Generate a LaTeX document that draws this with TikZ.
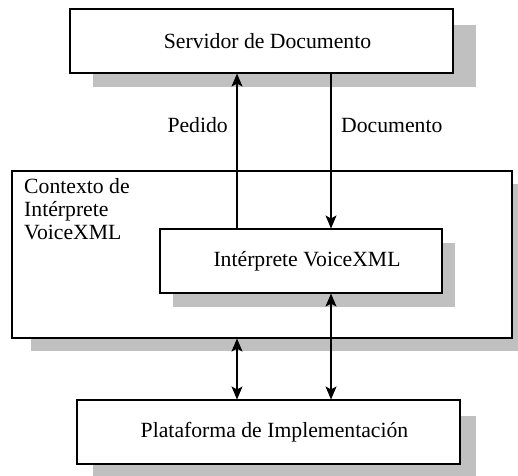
\documentclass[tikz,border=0pt]{standalone}
\usepackage{fontspec}
\setmainfont{Liberation Serif}
\usetikzlibrary{arrows.meta}
\definecolor{shadowc}{HTML}{C0C0C0}
\newcommand{\myrshift}[1]{\hspace*{12pt}#1}
\begin{document}
\begin{tikzpicture}[x=1pt,y=-1pt,
  every node/.style={font=\fontsize{21.7}{23}\selectfont},
  box/.style={draw=black,line width=1.1pt,fill=white,rectangle,inner sep=0pt},
  arr/.style={line width=1.1pt,-{Stealth[length=13pt,width=11pt,inset=3pt]}},
  darr/.style={line width=1.1pt,{Stealth[length=13pt,width=11pt,inset=3pt]}-{Stealth[length=13pt,width=11pt,inset=3pt]}},
  lbl/.style={inner sep=0pt}]
\useasboundingbox (0,0) rectangle (518,475);
\clip (0,0) rectangle (518,475);
% context
\fill[shadowc] (31,184) rectangle (531,351);
\node[box,minimum width=500pt,minimum height=167pt] (ctx) at (262,254.5) {};
\node[lbl,anchor=north west,align=left] (ctxl) at (24,178) {Contexto de\\Intérprete\\VoiceXML};
% top server
\fill[shadowc] (93,25) rectangle (476,87);
\node[box,minimum width=383pt,minimum height=64pt] (srv) at (261.5,41) {\myrshift{Servidor de Documento}};
% interpreter
\fill[shadowc] (173,243) rectangle (455,307);
\node[box,minimum width=282pt,minimum height=64pt] (int) at (301,261) {\myrshift{Intérprete VoiceXML}};
% platform
\fill[shadowc] (93,416) rectangle (476,480);
\node[box,minimum width=383pt,minimum height=64pt] (plat) at (268.5,432) {\myrshift{Plataforma de Implementación}};
% connectors
\coordinate (xl) at (237,0);
\coordinate (xr) at (331,0);
\draw[arr] (int.north -| xl) -- (srv.south -| xl);
\draw[arr] (srv.south -| xr) -- (int.north -| xr);
\draw[darr] (ctx.south -| xl) -- (plat.north -| xl);
\draw[darr] (int.south -| xr) -- (plat.north -| xr);
\node[lbl,anchor=east] (ped) at (228,125) {Pedido};
\node[lbl,anchor=west] (doc) at (341,125) {Documento};
\end{tikzpicture}
\end{document}
